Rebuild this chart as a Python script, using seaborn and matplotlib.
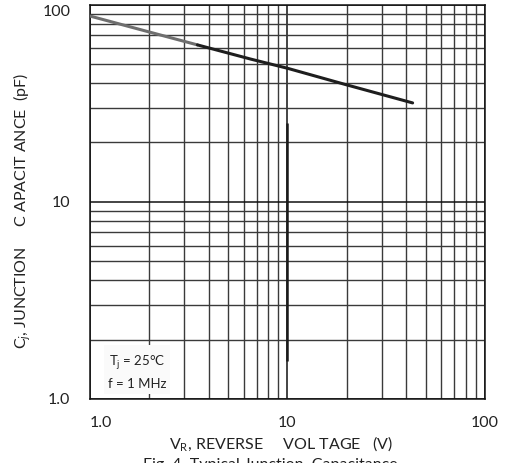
import matplotlib
matplotlib.use("Agg")
import matplotlib.pyplot as plt
from matplotlib.ticker import FixedLocator, FixedFormatter, NullFormatter, LogLocator
import seaborn as sns
import pandas as pd
import numpy as np

# ---- data ----
v_gray = [1.0, 2.0, 3.5]
c_gray = [87.4, 72.5, 62.4]
v_black = [3.5, 6.5, 10.0, 20.0, 43.0]
c_black = [62.4, 52.9, 47.5, 39.1, 31.7]
artifact_v = [10.0]
artifact_c = [1.55, 25.0]
x_ticks = [1, 10, 100]
x_tick_labels = ["1.0", "10", "100"]
y_ticks = [1, 10, 100]
y_tick_labels = ["1.0", "10", "100"]

sns.set_style("white")
plt.rcParams['font.family'] = ['Lato', 'DejaVu Sans']
plt.rcParams['mathtext.fontset'] = 'custom'
plt.rcParams['mathtext.rm'] = 'Lato'
plt.rcParams['mathtext.it'] = 'Lato:italic'

W, H = 506, 463
fig = plt.figure(figsize=(W / 100, H / 100), dpi=100)
ax = fig.add_axes([90 / W, 1 - 399 / H, 395 / W, 394.5 / H])
ax.set_xscale('log')
ax.set_yscale('log')
ax.set_xlim(1, 100)
ax.set_ylim(1, 100)

ax.xaxis.set_major_locator(FixedLocator(x_ticks))
ax.xaxis.set_major_formatter(FixedFormatter(x_tick_labels))
ax.yaxis.set_major_locator(FixedLocator(y_ticks))
ax.yaxis.set_major_formatter(FixedFormatter(y_tick_labels))
ax.xaxis.set_minor_locator(LogLocator(base=10, subs=np.arange(2, 10)))
ax.yaxis.set_minor_locator(LogLocator(base=10, subs=np.arange(2, 10)))
ax.xaxis.set_minor_formatter(NullFormatter())
ax.yaxis.set_minor_formatter(NullFormatter())

ax.grid(which='major', color='#111111', linewidth=1.1)
ax.grid(which='minor', color='#3a3a3a', linewidth=1.0)
ax.set_axisbelow(True)
ax.tick_params(which='both', length=0)
ax.tick_params(axis='x', pad=12, labelsize=11.5, colors='#222222')
ax.tick_params(axis='y', pad=14, labelsize=11.5, colors='#222222')
for sp in ax.spines.values():
    sp.set_color('#111111')
    sp.set_linewidth(1.1)

df_g = pd.DataFrame({'V': v_gray, 'C': c_gray})
df_b = pd.DataFrame({'V': v_black, 'C': c_black})
sns.lineplot(data=df_g, x='V', y='C', ax=ax, color='#6e6e6e', linewidth=2.2, zorder=5)
sns.lineplot(data=df_b, x='V', y='C', ax=ax, color='#1e1e1e', linewidth=2.2, zorder=5)
ax.vlines(artifact_v, artifact_c[0], artifact_c[1], color='#1a1a1a', linewidth=1.8, zorder=4)

ax.set_xlabel('')
ax.set_ylabel('')

# tick label alignment tweaks
xl = ax.get_xticklabels()
xl[0].set_ha('left')
yl = ax.get_yticklabels()
yl[-1].set_va('top')

ax.text(0.119, 0.07, 'T$_\\mathrm{j}$ = 25°C\nf = 1 MHz', transform=ax.transAxes,
        ha='center', va='center', fontsize=9.5, color='#222222', linespacing=1.6,
        bbox=dict(facecolor='#fafafa', edgecolor='none', pad=3), zorder=6)

fig.text(0.556, 1 - 444 / H, 'V$_\\mathrm{R}$, REVERSE     VOL TAGE   (V)',
         ha='center', va='center', fontsize=11.5, color='#222222')
fig.text(22 / W, 1 - 211 / H, 'C$_{j}$, JUNCTION     C APACIT ANCE  (pF)',
         ha='center', va='center', rotation=90, fontsize=11.5, color='#222222')
fig.text(143 / W, 1 - 458 / H, 'Fig. 4  Typical Junction  Capacitance',
         ha='left', va='top', fontsize=11.5, color='#222222')

fig.savefig('out.png', dpi=100)
